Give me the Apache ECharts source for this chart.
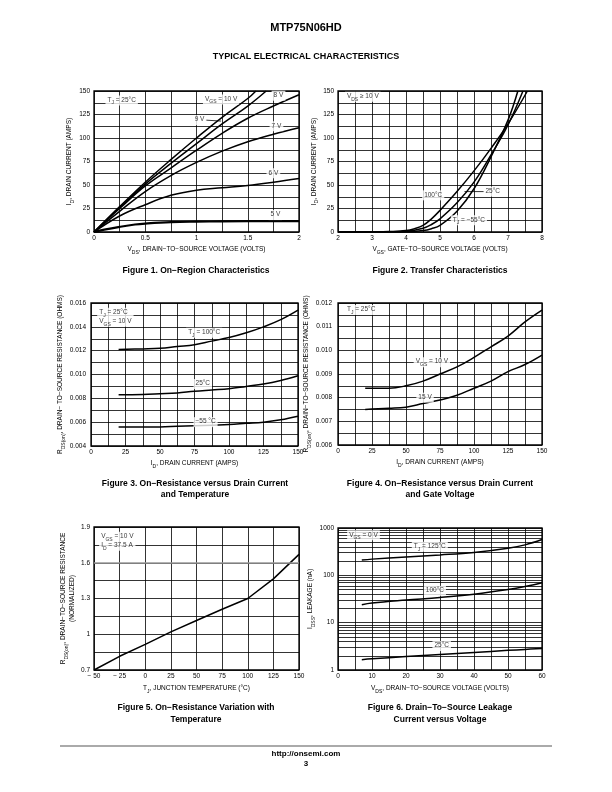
<!DOCTYPE html>
<html><head><meta charset="utf-8">
<script src="https://cdn.jsdelivr.net/npm/echarts@6/dist/echarts.min.js"></script>
<style>html,body{margin:0;padding:0;background:#fff}#c{width:612px;height:792px}</style>
</head><body><div id="c"></div>
<script>
// ---------- Figure 1: On-Region Characteristics ----------
const f1_10V_x = [0, 0.25, 0.5, 0.75, 1.0, 1.25, 1.5, 1.58];
const f1_10V_y = [0, 27, 53, 77, 100, 122, 142, 150];
const f1_9V_x = [0, 0.25, 0.5, 0.75, 1.0, 1.25, 1.5, 1.68];
const f1_9V_y = [0, 26, 51, 73, 94, 115, 134, 150];
const f1_x = [0, 0.25, 0.5, 0.75, 1.0, 1.25, 1.5, 1.75, 2.0];
const f1_8V_y = [0, 25, 49, 68, 87, 105, 121, 134, 146];
const f1_7V_y = [0, 22, 43, 60, 74, 86, 96, 104, 111];
const f1_6V_y = [0, 17, 29, 39, 44.5, 47, 49.5, 53, 57];
const f1_5V_x = [0, 0.1, 0.25, 0.4, 0.5, 0.75, 1.0, 1.5, 2.0];
const f1_5V_y = [0, 2.5, 5.5, 8, 9, 10.5, 11, 11.5, 11.5];
const f1_notes = ['T_{J} = 25°C', 'V_{GS} = 10 V', '9 V', '8 V', '7 V', '6 V', '5 V'];

// ---------- Figure 2: Transfer Characteristics ----------
const f2_100_x = [2, 3, 3.5, 4, 4.25, 4.5, 4.75, 5, 5.5, 6, 6.5, 7, 7.57];
const f2_100_y = [0, 0.2, 0.5, 1.5, 3.5, 7, 14, 23, 43, 65, 89, 115, 150];
const f2_25_x = [2, 3.5, 4, 4.5, 4.75, 5, 5.5, 6, 6.5, 7, 7.44];
const f2_25_y = [0, 0.2, 0.8, 4, 8, 14, 31, 53, 82, 114, 150];
const f2_m55_x = [2, 4, 4.5, 4.75, 5, 5.5, 6, 6.5, 7, 7.29];
const f2_m55_y = [0, 0.2, 1.5, 3.5, 7, 22, 46, 80, 119, 150];
const f2_notes = ['V_{DS} ≥ 10 V', '100°C', '25°C', 'T_{J} = −55°C'];

// ---------- Figure 3: Rds(on) vs Id and Temperature ----------
const f3_x = [20, 37.5, 50, 62.5, 75, 87.5, 100, 112.5, 125, 137.5, 150];
const f3_100 = [0.0121, 0.01215, 0.0122, 0.01235, 0.0125, 0.0128, 0.0131, 0.0135, 0.0140, 0.0146, 0.0154];
const f3_25 = [0.0083, 0.00832, 0.00838, 0.00845, 0.0086, 0.0087, 0.0088, 0.0090, 0.0092, 0.0095, 0.0099];
const f3_m55 = [0.0056, 0.0056, 0.0056, 0.00565, 0.0057, 0.00575, 0.0058, 0.0059, 0.0060, 0.0062, 0.0065];
const f3_notes = ['T_{J} = 25°C\nV_{GS} = 10 V', 'T_{J} = 100°C', '25°C', '−55 °C'];

// ---------- Figure 4: Rds(on) vs Id and Vgs ----------
const f4_x = [20, 37.5, 50, 62.5, 75, 87.5, 100, 112.5, 125, 137.5, 150];
const f4_10V = [0.0084, 0.0084, 0.0085, 0.0087, 0.0090, 0.0093, 0.0097, 0.01015, 0.0106, 0.0112, 0.0117];
const f4_15V = [0.0075, 0.00755, 0.0076, 0.00775, 0.0079, 0.0081, 0.0084, 0.0087, 0.0091, 0.0094, 0.0098];
const f4_notes = ['T_{J} = 25°C', 'V_{GS} = 10 V', '15 V'];

// ---------- Figure 5: Rds(on) vs Temperature ----------
const f5_x = [-50, -25, 0, 25, 50, 75, 100, 125, 150];
const f5_y = [0.70, 0.815, 0.915, 1.02, 1.115, 1.21, 1.30, 1.465, 1.67];
const f5_notes = ['V_{GS} = 10 V\nI_{D} = 37.5 A'];

// ---------- Figure 6: Idss Leakage ----------
const f6_x = [7, 10, 20, 30, 40, 50, 55, 60];
const f6_125 = [210, 220, 245, 270, 305, 375, 440, 570];
const f6_100 = [24, 26, 30, 34, 40, 50, 58, 70];
const f6_25 = [1.65, 1.72, 1.92, 2.12, 2.35, 2.6, 2.72, 2.85];
const f6_minor = [2, 3, 4, 5, 6, 7, 8, 9, 20, 30, 40, 50, 60, 70, 80, 90, 200, 300, 400, 500, 600, 700, 800, 900];
const f6_notes = ['V_{GS} = 0 V', 'T_{J} = 125°C', '100°C', '25°C'];

// ---------- helpers ----------
const F = '"Liberation Sans",Arial,sans-serif';
const FB = '"Liberation Sans",Arial,sans-serif';
const FS = 6.5;
function rtLine(s) {
  let out = '', re = /_\{([^}]*)\}/g, last = 0, m;
  while ((m = re.exec(s))) {
    if (m.index > last) out += '{n|' + s.slice(last, m.index) + '}';
    out += '{s|' + m[1] + '}';
    last = re.lastIndex;
  }
  if (last < s.length) out += '{n|' + s.slice(last) + '}';
  return out;
}
function rt(s) { return s.split('\n').map(rtLine).join('\n'); }
function rich(fs) {
  return {
    n: {fontSize: fs, fontFamily: F, color: '#000', lineHeight: fs + 2.5, verticalAlign: 'top'},
    s: {fontSize: 5, fontFamily: F, color: '#000', verticalAlign: 'bottom'}
  };
}
const zip = (xs, ys) => xs.map((x, i) => [x, ys[i]]);
const GL = {color: '#000', width: 0.8};

function axis(gi, o) {
  const base = {
    gridIndex: gi, type: 'value',
    axisLine: {show: false}, axisTick: {show: false},
    splitLine: {show: true, lineStyle: GL},
    minorTick: {show: false, splitNumber: 2},
    minorSplitLine: {show: false, lineStyle: GL},
    axisLabel: {color: '#000', fontSize: FS, fontFamily: F, margin: 4, showMinLabel: true, showMaxLabel: true, hideOverlap: false},
    nameLocation: 'middle',
    nameTextStyle: {rich: rich(FS)}
  };
  const r = Object.assign(base, o);
  if (o.axisLabelExtra) { Object.assign(r.axisLabel, o.axisLabelExtra); delete r.axisLabelExtra; }
  if (o.minor) { r.minorSplitLine = {show: true, lineStyle: GL}; delete r.minor; }
  r.name = rt(o.name);
  return r;
}
function curve(gi, data, opt) {
  return Object.assign({
    type: 'line', xAxisIndex: gi, yAxisIndex: gi, data: data,
    showSymbol: false, symbol: 'none', smooth: 0.4,
    lineStyle: {color: '#000', width: 1.5}, silent: true, z: 3, animation: false
  }, opt || {});
}
function notes(gi, items) {
  return {
    type: 'scatter', xAxisIndex: gi, yAxisIndex: gi, symbolSize: 0, silent: true, z: 6, animation: false,
    itemStyle: {color: 'rgba(0,0,0,0)'},
    data: items.map(([x, y, t, al]) => ({
      value: [x, y],
      label: {formatter: () => rt(t), align: al || 'center'}
    })),
    label: {show: true, position: 'inside', verticalAlign: 'middle', color: '#000', backgroundColor: '#fff', padding: [1, 2, 0, 2], rich: rich(FS)}
  };
}
function leader(gi, pts) {
  return {type: 'line', xAxisIndex: gi, yAxisIndex: gi, data: pts, showSymbol: false, symbol: 'none',
    lineStyle: {color: '#000', width: 0.8}, silent: true, z: 4, animation: false};
}
function txt(x, y, s, font) {
  return {type: 'text', x: x, y: y, silent: true,
    style: {text: s, font: font, fill: '#000', textAlign: 'center', textVerticalAlign: 'middle', align: 'center', verticalAlign: 'middle'}};
}

const grids = [
  {left: 94, top: 91, width: 205, height: 141},
  {left: 338, top: 91, width: 204, height: 141},
  {left: 91, top: 303, width: 207, height: 143},
  {left: 338, top: 303, width: 204, height: 142},
  {left: 94, top: 527, width: 205, height: 143},
  {left: 338, top: 528, width: 204, height: 142}
].map(g => Object.assign({show: true, borderColor: '#000', borderWidth: 1.3, backgroundColor: 'transparent', containLabel: false}, g));

const xAxes = [
  axis(0, {min: 0, max: 2, interval: 0.5, minor: true, name: 'V_{DS}, DRAIN−TO−SOURCE VOLTAGE (VOLTS)', nameGap: 14, axisLabelExtra: {margin: 3}}),
  axis(1, {min: 2, max: 8, interval: 1, minor: true, name: 'V_{GS}, GATE−TO−SOURCE VOLTAGE (VOLTS)', nameGap: 14, axisLabelExtra: {margin: 3}}),
  axis(2, {min: 0, max: 150, interval: 25, minor: true, name: 'I_{D}, DRAIN CURRENT (AMPS)', nameGap: 14, axisLabelExtra: {margin: 3}}),
  axis(3, {min: 0, max: 150, interval: 25, minor: true, name: 'I_{D}, DRAIN CURRENT (AMPS)', nameGap: 14, axisLabelExtra: {margin: 3}}),
  axis(4, {min: -50, max: 150, interval: 25, name: 'T_{J}, JUNCTION TEMPERATURE (°C)', nameGap: 15, axisLabelExtra: {margin: 3, formatter: v => v < 0 ? '− ' + (-v) : String(v)}}),
  axis(5, {min: 0, max: 60, interval: 10, minor: true, name: 'V_{DS}, DRAIN−TO−SOURCE VOLTAGE (VOLTS)', nameGap: 15, axisLabelExtra: {margin: 3}})
];
const yAxes = [
  axis(0, {min: 0, max: 150, interval: 25, minor: true, name: 'I_{D}, DRAIN CURRENT (AMPS)', nameGap: 19}),
  axis(1, {min: 0, max: 150, interval: 25, minor: true, name: 'I_{D}, DRAIN CURRENT (AMPS)', nameGap: 17}),
  axis(2, {min: 0.004, max: 0.016, interval: 0.002, minor: true, name: 'R_{DS(on)}, DRAIN− TO−SOURCE RESISTANCE (OHMS)', nameGap: 21, axisLabelExtra: {formatter: v => v.toFixed(3), margin: 5}}),
  axis(3, {min: 0.006, max: 0.012, interval: 0.001, minor: true, name: 'R_{DS(on)}, DRAIN−TO−SOURCE RESISTANCE (OHMS)', nameGap: 21, axisLabelExtra: {formatter: v => v.toFixed(3), margin: 6}}),
  axis(4, {min: 0.7, max: 1.9, interval: 0.3, minor: true, name: 'R_{DS(on)}, DRAIN−TO−SOURCE RESISTANCE\n(NORMALIZED)', nameGap: 16, axisLabelExtra: {formatter: v => String(Math.round(v * 10) / 10)}}),
  axis(5, {type: 'log', logBase: 10, min: 1, max: 1000, name: 'I_{DSS}, LEAKAGE (nA)', nameGap: 17, axisLabelExtra: {formatter: v => String(Math.round(v))}})
];

const series = [
  // Fig 1
  curve(0, zip(f1_10V_x, f1_10V_y)),
  curve(0, zip(f1_9V_x, f1_9V_y)),
  curve(0, zip(f1_x, f1_8V_y)),
  curve(0, zip(f1_x, f1_7V_y)),
  curve(0, zip(f1_x, f1_6V_y)),
  curve(0, zip(f1_5V_x, f1_5V_y), {lineStyle: {color: '#000', width: 2.2}}),
  leader(0, [[1.09, 119], [1.24, 118]]),
  notes(0, [[0.27, 140, f1_notes[0]], [1.24, 141, f1_notes[1]], [1.03, 119, f1_notes[2]], [1.80, 145, f1_notes[3]],
            [1.78, 112.5, f1_notes[4]], [1.75, 62.5, f1_notes[5]], [1.77, 18, f1_notes[6]]]),
  // Fig 2
  curve(1, zip(f2_100_x, f2_100_y)),
  curve(1, zip(f2_25_x, f2_25_y)),
  curve(1, zip(f2_m55_x, f2_m55_y)),
  leader(1, [[5.72, 43], [6.3, 43]]),
  notes(1, [[2.73, 144, f2_notes[0]], [4.8, 39, f2_notes[1]], [6.55, 43, f2_notes[2]], [5.85, 12.5, f2_notes[3]]]),
  // Fig 3
  curve(2, zip(f3_x, f3_100)),
  curve(2, zip(f3_x, f3_25)),
  curve(2, zip(f3_x, f3_m55)),
  notes(2, [[4.5, 0.0148, f3_notes[0], 'left'], [82, 0.0135, f3_notes[1]], [81, 0.0092, f3_notes[2]], [83, 0.006, f3_notes[3]]]),
  // Fig 4
  curve(3, zip(f4_x, f4_10V)),
  curve(3, zip(f4_x, f4_15V)),
  notes(3, [[17, 0.0117, f4_notes[0]], [69, 0.0095, f4_notes[1]], [64, 0.008, f4_notes[2]]]),
  // Fig 5
  curve(4, zip(f5_x, f5_y), {smooth: false, markLine: {silent: true, symbol: ['none', 'none'], label: {show: false}, animation: false,
    lineStyle: {color: '#999', width: 1.6, type: 'solid'}, data: [{yAxis: 1.6}]}}),
  notes(4, [[-45, 1.78, f5_notes[0], 'left']]),
  // Fig 6
  curve(5, zip(f6_x, f6_125)),
  curve(5, zip(f6_x, f6_100)),
  curve(5, zip(f6_x, f6_25), {markLine: {silent: true, symbol: ['none', 'none'], label: {show: false}, animation: false,
    lineStyle: {color: '#000', width: 0.8, type: 'solid'}, data: f6_minor.map(v => ({yAxis: v}))}}),
  notes(5, [[7.5, 700, f6_notes[0]], [27, 400, f6_notes[1]], [28.5, 47, f6_notes[2]], [30.5, 3.2, f6_notes[3]]])
];

const CAP = 'bold 8.5px ' + FB;
const graphic = [
  txt(306, 28, 'MTP75N06HD', 'bold 11px ' + FB),
  txt(306, 57, 'TYPICAL ELECTRICAL CHARACTERISTICS', 'bold 9px ' + FB),
  txt(196, 271, 'Figure 1. On−Region Characteristics', CAP),
  txt(440, 271, 'Figure 2. Transfer Characteristics', CAP),
  txt(195, 484, 'Figure 3. On−Resistance versus Drain Current', CAP),
  txt(195, 495, 'and Temperature', CAP),
  txt(440, 484, 'Figure 4. On−Resistance versus Drain Current', CAP),
  txt(440, 495, 'and Gate Voltage', CAP),
  txt(196, 708, 'Figure 5. On−Resistance Variation with', CAP),
  txt(196, 720, 'Temperature', CAP),
  txt(440, 708, 'Figure 6. Drain−To−Source Leakage', CAP),
  txt(440, 720, 'Current versus Voltage', CAP),
  {type: 'line', silent: true, shape: {x1: 60, y1: 746, x2: 552, y2: 746}, style: {stroke: '#aaa', lineWidth: 2}},
  txt(306, 754, 'http://onsemi.com', 'bold 8px ' + FB),
  txt(306, 764, '3', 'bold 8px ' + FB)
];

const chart = echarts.init(document.getElementById('c'), null, {renderer: 'canvas', width: 612, height: 792});
chart.setOption({
  animation: false,
  backgroundColor: '#fff',
  grid: grids, xAxis: xAxes, yAxis: yAxes, series: series, graphic: graphic
});
</script>
</body></html>
